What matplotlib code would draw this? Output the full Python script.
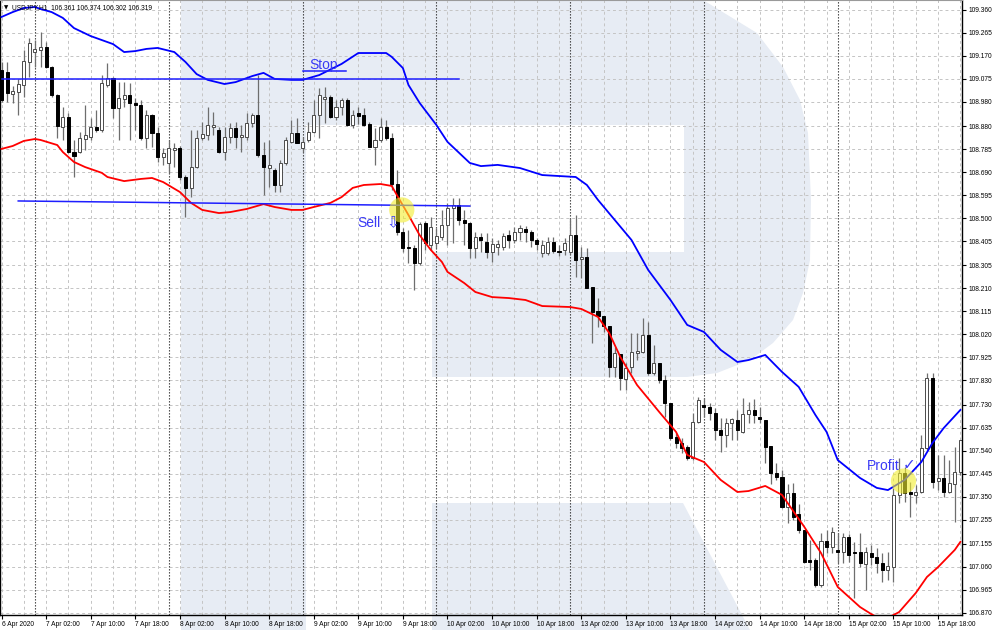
import matplotlib.pyplot as plt
import numpy as np
from matplotlib.patches import Polygon

# hourly USDJPY bars, 6 Apr 18:00 .. 15 Apr 22:00 (weekend skipped)
open_ = [109.112, 109.104, 109.013, 109.021, 109.050, 109.145, 109.186, 109.194, 109.207, 109.124,
         109.009, 108.876, 108.918, 108.773, 108.773, 108.827, 108.835, 108.876, 108.864, 109.050,
         109.079, 108.955, 108.992, 109.009, 108.976, 108.967, 108.831, 108.926, 108.852, 108.753,
         108.728, 108.782, 108.790, 108.670, 108.625, 108.711, 108.831, 108.843, 108.876, 108.864,
         108.773, 108.835, 108.872, 108.835, 108.835, 108.893, 108.926, 108.761, 108.707, 108.699,
         108.637, 108.728, 108.815, 108.852, 108.790, 108.823, 108.856, 108.926, 108.992, 109.000,
         108.918, 108.959, 108.988, 108.885, 108.934, 108.926, 108.889, 108.794, 108.823, 108.876,
         108.831, 108.641, 108.443, 108.381, 108.377, 108.315, 108.480, 108.389, 108.397, 108.422,
         108.472, 108.542, 108.554, 108.492, 108.480, 108.377, 108.422, 108.402, 108.360, 108.381,
         108.381, 108.430, 108.410, 108.443, 108.455, 108.443, 108.410, 108.356, 108.356, 108.402,
         108.364, 108.369, 108.360, 108.430, 108.331, 108.340, 108.216, 108.117, 108.096, 108.055,
         107.885, 107.939, 107.836, 107.885, 107.943, 107.947, 108.018, 107.861, 107.902, 107.832,
         107.737, 107.596, 107.571, 107.555, 107.509, 107.658, 107.728, 107.720, 107.695, 107.625,
         107.605, 107.654, 107.666, 107.617, 107.691, 107.708, 107.679, 107.666, 107.560, 107.448,
         107.431, 107.307, 107.365, 107.278, 107.212, 107.088, 107.088, 106.985, 107.167, 107.142,
         107.130, 107.121, 107.183, 107.121, 107.121, 107.072, 107.117, 107.101, 107.076, 107.047,
         107.059, 107.357, 107.448, 107.369, 107.357, 107.369, 107.551, 107.840, 107.414, 107.427,
         107.369, 107.402, 107.452]
high = [109.145, 109.145, 109.046, 109.075, 109.194, 109.244, 109.236, 109.269, 109.228, 109.128,
        109.013, 108.959, 108.934, 108.823, 108.856, 108.967, 108.914, 108.947, 109.091, 109.141,
        109.083, 109.062, 109.062, 109.058, 108.996, 108.988, 108.947, 108.930, 108.876, 108.790,
        108.823, 108.810, 108.798, 108.678, 108.864, 108.864, 108.897, 108.959, 108.938, 108.876,
        108.876, 108.893, 108.897, 108.885, 108.934, 108.934, 109.091, 108.815, 108.823, 108.707,
        108.740, 108.835, 108.905, 108.914, 108.835, 108.897, 108.988, 109.038, 109.042, 109.009,
        108.988, 108.996, 108.996, 108.947, 108.959, 108.955, 108.897, 108.872, 108.914, 108.905,
        108.852, 108.699, 108.459, 108.451, 108.389, 108.484, 108.488, 108.505, 108.459, 108.534,
        108.563, 108.583, 108.583, 108.534, 108.484, 108.443, 108.439, 108.439, 108.418, 108.410,
        108.439, 108.451, 108.464, 108.472, 108.468, 108.451, 108.418, 108.410, 108.422, 108.422,
        108.389, 108.418, 108.501, 108.513, 108.381, 108.377, 108.216, 108.170, 108.096, 108.055,
        107.968, 107.939, 107.902, 108.026, 108.026, 108.088, 108.071, 107.976, 107.902, 107.852,
        107.737, 107.613, 107.592, 107.563, 107.695, 107.761, 107.757, 107.737, 107.716, 107.675,
        107.675, 107.675, 107.708, 107.757, 107.741, 107.753, 107.720, 107.666, 107.560, 107.489,
        107.460, 107.400, 107.406, 107.319, 107.212, 107.171, 107.096, 107.200, 107.212, 107.225,
        107.200, 107.200, 107.196, 107.163, 107.200, 107.142, 107.150, 107.138, 107.117, 107.121,
        107.386, 107.509, 107.472, 107.410, 107.398, 107.605, 107.861, 107.861, 107.522, 107.522,
        107.501, 107.555, 107.584]
low = [108.980, 108.980, 108.976, 108.926, 109.000, 109.083, 109.124, 109.124, 109.120, 109.000,
       108.831, 108.823, 108.769, 108.670, 108.769, 108.782, 108.823, 108.856, 108.856, 109.042,
       108.914, 108.823, 108.959, 108.823, 108.864, 108.823, 108.790, 108.794, 108.732, 108.720,
       108.687, 108.711, 108.658, 108.505, 108.587, 108.707, 108.823, 108.823, 108.843, 108.769,
       108.740, 108.810, 108.790, 108.773, 108.823, 108.876, 108.753, 108.596, 108.629, 108.608,
       108.608, 108.720, 108.810, 108.810, 108.773, 108.815, 108.852, 108.831, 108.893, 108.914,
       108.905, 108.926, 108.881, 108.872, 108.889, 108.881, 108.794, 108.720, 108.815, 108.823,
       108.616, 108.430, 108.360, 108.315, 108.203, 108.307, 108.369, 108.369, 108.377, 108.410,
       108.389, 108.397, 108.472, 108.389, 108.335, 108.335, 108.360, 108.335, 108.319, 108.348,
       108.369, 108.377, 108.397, 108.410, 108.402, 108.381, 108.369, 108.340, 108.348, 108.356,
       108.344, 108.348, 108.352, 108.257, 108.253, 108.212, 107.984, 108.051, 108.030, 107.844,
       107.844, 107.790, 107.790, 107.861, 107.914, 107.943, 107.852, 107.852, 107.819, 107.679,
       107.584, 107.551, 107.530, 107.501, 107.501, 107.654, 107.679, 107.666, 107.584, 107.534,
       107.555, 107.584, 107.584, 107.613, 107.654, 107.654, 107.654, 107.489, 107.400, 107.419,
       107.303, 107.241, 107.253, 107.200, 107.076, 107.047, 106.977, 106.977, 107.117, 107.117,
       107.076, 107.076, 107.080, 106.931, 107.059, 106.964, 107.067, 107.035, 106.997, 107.006,
       106.997, 107.324, 107.328, 107.266, 107.324, 107.365, 107.543, 107.386, 107.377, 107.348,
       107.365, 107.245, 107.439]
close = [108.988, 109.017, 109.025, 109.054, 109.149, 109.223, 109.199, 109.207, 109.124, 109.009,
         108.881, 108.918, 108.773, 108.757, 108.831, 108.843, 108.876, 108.864, 109.058, 109.079,
         108.955, 108.996, 109.009, 108.976, 108.967, 108.831, 108.926, 108.852, 108.753, 108.769,
         108.790, 108.790, 108.670, 108.625, 108.711, 108.831, 108.848, 108.885, 108.885, 108.773,
         108.835, 108.872, 108.835, 108.843, 108.893, 108.926, 108.761, 108.711, 108.720, 108.637,
         108.728, 108.823, 108.852, 108.810, 108.815, 108.856, 108.926, 109.009, 109.000, 108.918,
         108.959, 108.988, 108.885, 108.926, 108.922, 108.885, 108.794, 108.823, 108.876, 108.831,
         108.641, 108.443, 108.377, 108.377, 108.315, 108.476, 108.397, 108.464, 108.426, 108.472,
         108.542, 108.554, 108.492, 108.480, 108.377, 108.422, 108.410, 108.360, 108.393, 108.393,
         108.426, 108.410, 108.443, 108.459, 108.443, 108.410, 108.393, 108.389, 108.402, 108.364,
         108.360, 108.397, 108.430, 108.327, 108.340, 108.212, 108.112, 108.096, 108.055, 107.885,
         107.943, 107.840, 107.881, 107.947, 107.951, 108.018, 107.861, 107.902, 107.832, 107.737,
         107.592, 107.571, 107.551, 107.509, 107.658, 107.749, 107.720, 107.695, 107.625, 107.605,
         107.654, 107.671, 107.625, 107.691, 107.708, 107.687, 107.671, 107.555, 107.448, 107.431,
         107.307, 107.365, 107.266, 107.212, 107.080, 107.080, 106.985, 107.167, 107.142, 107.204,
         107.121, 107.183, 107.109, 107.117, 107.076, 107.121, 107.101, 107.076, 107.047, 107.063,
         107.357, 107.448, 107.365, 107.361, 107.369, 107.551, 107.840, 107.410, 107.427, 107.369,
         107.406, 107.452, 107.584]

# channel lines (bar index, price)
upper_idx = [0, 2, 4, 6, 7, 9, 11, 13, 16, 20, 22, 24, 26, 28, 31, 33, 35, 37, 40, 42, 45, 47, 49,
             52, 54, 57, 61, 64, 69, 70, 72, 73, 75, 78, 80, 84, 86, 89, 93, 97, 100, 103, 105, 107,
             113, 116, 120, 123, 126, 129, 132, 134, 137, 140, 143, 146, 148, 150, 154, 157, 159,
             162, 165, 167, 169, 172]
upper_val = [109.331, 109.351, 109.368, 109.372, 109.364, 109.351, 109.327, 109.285, 109.252,
             109.219, 109.186, 109.190, 109.199, 109.203, 109.186, 109.145, 109.095, 109.071,
             109.054, 109.062, 109.087, 109.100, 109.075, 109.071, 109.071, 109.091, 109.137,
             109.182, 109.182, 109.166, 109.120, 109.050, 108.976, 108.885, 108.815, 108.728,
             108.715, 108.720, 108.707, 108.678, 108.674, 108.670, 108.637, 108.575, 108.410,
             108.286, 108.162, 108.059, 108.030, 107.956, 107.906, 107.914, 107.935, 107.865,
             107.803, 107.687, 107.617, 107.501, 107.427, 107.386, 107.377, 107.419, 107.493,
             107.572, 107.633, 107.708]
lower_idx = [0, 2, 4, 6, 7, 10, 11, 13, 15, 18, 19, 22, 25, 27, 29, 32, 34, 36, 39, 41, 44, 47, 49,
             52, 54, 56, 59, 61, 63, 65, 68, 70, 71, 73, 75, 77, 79, 80, 83, 85, 88, 91, 94, 97,
             102, 104, 107, 109, 111, 114, 118, 121, 123, 126, 129, 132, 134, 137, 140, 144, 147,
             150, 154, 156, 158, 160, 161, 164, 166, 168, 171, 172]
lower_val = [108.786, 108.798, 108.819, 108.827, 108.823, 108.802, 108.773, 108.732, 108.711,
             108.687, 108.670, 108.653, 108.662, 108.666, 108.649, 108.608, 108.563, 108.534,
             108.521, 108.525, 108.538, 108.558, 108.546, 108.534, 108.534, 108.546, 108.563,
             108.587, 108.625, 108.637, 108.641, 108.633, 108.592, 108.513, 108.430, 108.369,
             108.319, 108.278, 108.232, 108.195, 108.174, 108.170, 108.162, 108.137, 108.133,
             108.125, 108.092, 108.026, 107.927, 107.811, 107.699, 107.617, 107.522, 107.493,
             107.419, 107.369, 107.373, 107.394, 107.357, 107.225, 107.117, 106.977, 106.894,
             106.865, 106.840, 106.861, 106.873, 106.952, 107.018, 107.059, 107.130, 107.163]

stop_level = 109.075
stop_span = (0, 82)
entry_start = (3, 108.571)
entry_end = (84, 108.550)
sell_point = (71.8, 108.534)
profit_point = (161.8, 107.414)

price_ticks = [109.360, 109.265, 109.170, 109.075, 108.980, 108.880, 108.785, 108.690, 108.595,
               108.500, 108.405, 108.305, 108.210, 108.115, 108.020, 107.925, 107.830, 107.730,
               107.635, 107.540, 107.445, 107.350, 107.255, 107.155, 107.060, 106.965, 106.870]
time_labels = ['6 Apr 2020', '7 Apr 02:00', '7 Apr 10:00', '7 Apr 18:00', '8 Apr 02:00',
               '8 Apr 10:00', '8 Apr 18:00', '9 Apr 02:00', '9 Apr 10:00', '9 Apr 18:00',
               '10 Apr 02:00', '10 Apr 10:00', '10 Apr 18:00', '13 Apr 02:00', '13 Apr 10:00',
               '13 Apr 18:00', '14 Apr 02:00', '14 Apr 10:00', '14 Apr 18:00', '15 Apr 02:00',
               '15 Apr 10:00', '15 Apr 18:00']
day_starts = [6, 30, 54, 78, 102, 126, 150]

plt.rcParams['font.family'] = ['Liberation Sans', 'DejaVu Sans']

fig = plt.figure(figsize=(9.92, 6.3), dpi=100)

# watermark logo behind everything, in pixel space
bg = fig.add_axes([0, 0, 1, 1], zorder=0)
bg.set_xlim(0, 992)
bg.set_ylim(630, 0)
bg.axis('off')
logo = '#E7ECF4'
stem = [(181, 0), (306, 0), (306, 630), (181, 630)]
bowl = [(306, 0), (703, 0), (757, 33), (783, 67), (800, 100), (808, 133), (811, 200), (810, 260),
        (803, 293), (793, 320), (773, 343), (750, 360), (717, 373), (687, 377), (432, 377),
        (432, 252), (684, 252), (684, 125), (306, 125)]
leg = [(432, 503), (683, 503), (750, 630), (432, 630)]
for pts in (stem, bowl, leg):
    bg.add_patch(Polygon(pts, closed=True, facecolor=logo, edgecolor='none'))

ax = fig.add_axes([0, 15 / 630, 962 / 992, 615 / 630], zorder=1)
ax.set_facecolor('none')

n = len(close)
idx = np.arange(n)
o = np.array(open_)
c = np.array(close)
h = np.array(high)
l = np.array(low)
up = c >= o

# grid
for p in price_ticks:
    ax.axhline(p, color='#C4C4C4', lw=0.7, ls=(0, (3, 3)), zorder=0.5)
for g in range(0, n, 4):
    ax.axvline(g, color='#C4C4C4', lw=0.7, ls=(0, (3, 3)), zorder=0.5)
for d in day_starts:
    ax.axvline(d, color='#333333', lw=0.8, ls=(0, (1.2, 1.5)), zorder=0.6)

# candles
ax.vlines(idx, l, h, color='#6E6E6E', lw=0.9, zorder=2)
body_bottom = np.minimum(o, c)
body_h = np.maximum(np.abs(c - o), 0.0025)
ax.bar(idx[up], body_h[up], bottom=body_bottom[up], width=0.55, color='white',
       edgecolor='#4A4A4A', lw=0.7, zorder=2.5)
ax.bar(idx[~up], body_h[~up], bottom=body_bottom[~up], width=0.55, color='black',
       edgecolor='black', lw=0.7, zorder=2.5)

# channel
ax.plot(upper_idx, upper_val, color='#0000FF', lw=1.3, zorder=3)
ax.plot(lower_idx, lower_val, color='#FF0000', lw=1.3, zorder=3)

# levels
blue = '#1E1EFF'
ax.plot(stop_span, [stop_level, stop_level], color=blue, lw=1.1, zorder=3)
ax.plot([54.1, 61.8], [109.108, 109.108], color=blue, lw=1.1, zorder=3)
ax.plot([entry_start[0], entry_end[0]], [entry_start[1], entry_end[1]], color=blue, lw=1.1, zorder=3)

ax.scatter([sell_point[0], profit_point[0]], [sell_point[1], profit_point[1]], s=330,
           color='#F2EE2E', alpha=0.6, edgecolors='none', zorder=4)

txt = '#3A3AF5'
ax.text(55.3, 109.114, 'Stop', color=txt, fontsize=10, va='baseline', ha='left', zorder=5)
ax.text(63.9, 108.464, 'Sell', color=txt, fontsize=10, va='baseline', ha='left', zorder=5)
ax.text(69.0, 108.462, '\u21e9', color=txt, fontsize=11, va='baseline', ha='left',
        family=['DejaVu Sans'], zorder=5)
ax.text(155.2, 107.460, 'Profit', color=txt, fontsize=10, va='baseline', ha='left', zorder=5)
ax.text(161.6, 107.462, '\u2713', color=txt, fontsize=11, va='baseline', ha='left',
        family=['DejaVu Sans'], zorder=5)

# axes
ax.set_xlim(-0.27, 172.29)
ax.set_ylim(106.861, 109.401)
ax.set_yticks(price_ticks)
ax.set_yticklabels([f'{p:.3f}' for p in price_ticks])
ax.yaxis.tick_right()
ax.tick_params(axis='y', direction='out', length=3, width=0.8, pad=1.5, labelsize=4.8)
ax.set_xticks(range(0, 8 * len(time_labels), 8))
ax.set_xticklabels(time_labels)
ax.tick_params(axis='x', direction='out', length=3, width=0.8, pad=1.5, labelsize=4.8)
for lab in ax.get_xticklabels():
    lab.set_horizontalalignment('left')
for side in ('left', 'bottom', 'right'):
    ax.spines[side].set_color('black')
    ax.spines[side].set_linewidth(1.0)
ax.spines['top'].set_color('#9A9A9A')

ax.text(0.004, 0.992, '\u25bc', transform=ax.transAxes, fontsize=4, va='top', ha='left',
        family=['DejaVu Sans'])
ax.text(0.012, 0.993, 'USDJPY,H1  106.361 106.374 106.302 106.319', transform=ax.transAxes,
        fontsize=4.8, va='top', ha='left')

fig.savefig('out.png', dpi=100, facecolor='white')
